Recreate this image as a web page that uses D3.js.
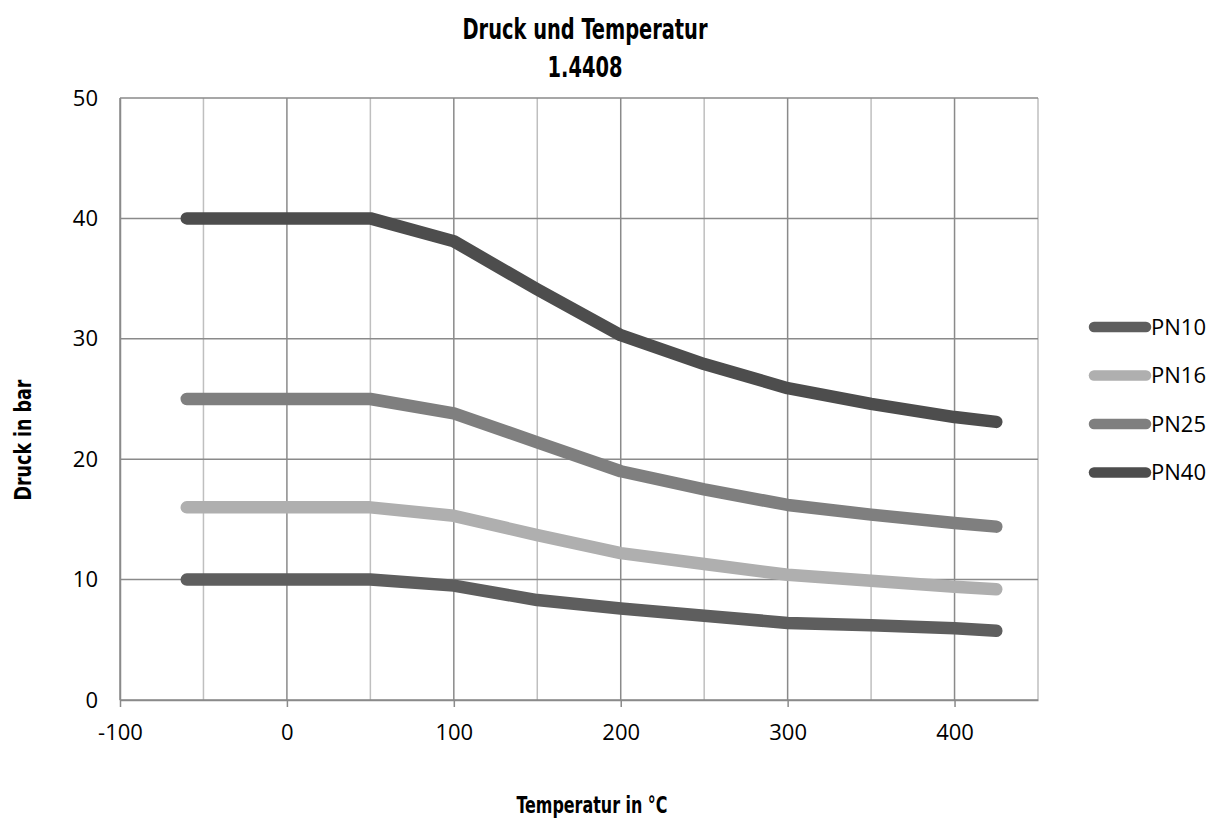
<!DOCTYPE html>
<html>
<head>
<meta charset="utf-8">
<script src="https://cdn.jsdelivr.net/npm/d3@7"></script>
<style>
	body { margin: 0; background: #fff; }
	svg { display: block; }
	.tick-label { font-family: "Open Sans", "Noto Sans", sans-serif; font-size: 22px; fill: #000; }
	.cond { font-family: "DejaVu Sans Condensed", "Liberation Sans Narrow", sans-serif; font-weight: bold; fill: #000; }
</style>
</head>
<body>
<svg id="chart"></svg>
<script>
const temps = [-60, 50, 100, 150, 200, 250, 300, 350, 400, 425];
const seriesNames = ["PN10", "PN16", "PN25", "PN40"];
const pn10 = [10, 10, 9.5, 8.3, 7.6, 7.0, 6.4, 6.2, 5.95, 5.75];
const pn16 = [16, 16, 15.3, 13.7, 12.2, 11.3, 10.4, 9.9, 9.4, 9.2];
const pn25 = [25, 25, 23.8, 21.4, 19.0, 17.5, 16.2, 15.4, 14.7, 14.4];
const pn40 = [40, 40, 38.1, 34.1, 30.3, 27.9, 25.9, 24.6, 23.5, 23.1];
const xTicks = [-100, 0, 100, 200, 300, 400];
const xMinor = [-50, 50, 150, 250, 350, 450];
const yTicks = [0, 10, 20, 30, 40, 50];

const seriesValues = [pn10, pn16, pn25, pn40];
const colors = ["#5e5e5e", "#afafaf", "#7f7f7f", "#4d4d4d"];

const W = 1223, H = 818;
const svg = d3.select("#chart").attr("width", W).attr("height", H);

const x = d3.scaleLinear().domain([-100, 450]).range([120, 1038]);
const y = d3.scaleLinear().domain([0, 50]).range([700, 98]);

// minor vertical grid
svg.append("g")
	.selectAll("line")
	.data(xMinor)
	.enter().append("line")
	.attr("x1", d => x(d)).attr("x2", d => x(d))
	.attr("y1", y(50)).attr("y2", y(0))
	.attr("stroke", "#bfbfbf")
	.attr("stroke-width", 1.5);

// major vertical grid
svg.append("g")
	.selectAll("line")
	.data(xTicks)
	.enter().append("line")
	.attr("x1", d => x(d)).attr("x2", d => x(d))
	.attr("y1", y(50)).attr("y2", y(0))
	.attr("stroke", "#8a8a8a")
	.attr("stroke-width", 1.5);

// horizontal grid
svg.append("g")
	.selectAll("line")
	.data(yTicks)
	.enter().append("line")
	.attr("x1", x(-100)).attr("x2", x(450))
	.attr("y1", d => y(d)).attr("y2", d => y(d))
	.attr("stroke", "#8a8a8a")
	.attr("stroke-width", 1.5);

// x axis
const xAxis = svg.append("g")
	.attr("transform", `translate(0,${y(0)})`)
	.call(d3.axisBottom(x).tickValues(xTicks).tickFormat(d => String(d))
		.tickSize(7).tickSizeOuter(0).tickPadding(17));
xAxis.select(".domain").attr("stroke", "#8a8a8a").attr("stroke-width", 1.5);
xAxis.selectAll(".tick line").attr("stroke", "#8a8a8a").attr("stroke-width", 1.5);
xAxis.selectAll("text").attr("class", "tick-label");

// y axis
const yAxis = svg.append("g")
	.attr("transform", `translate(${x(-100)},0)`)
	.call(d3.axisLeft(y).tickValues(yTicks).tickFormat(d => String(d))
		.tickSize(0).tickSizeOuter(0).tickPadding(22));
yAxis.select(".domain").attr("stroke", "#8a8a8a").attr("stroke-width", 1.5);
yAxis.selectAll("text").attr("class", "tick-label");

// series lines
const line = d3.line()
	.x((d, i) => x(temps[i]))
	.y(d => y(d));

svg.append("g")
	.selectAll("path")
	.data(seriesValues)
	.enter().append("path")
	.attr("d", d => line(d))
	.attr("fill", "none")
	.attr("stroke", (d, i) => colors[i])
	.attr("stroke-width", 12.5)
	.attr("stroke-linecap", "round")
	.attr("stroke-linejoin", "round");

// legend
const legend = svg.append("g")
	.selectAll("g")
	.data(seriesNames)
	.enter().append("g")
	.attr("transform", (d, i) => `translate(0,${327 + i * 48.5})`);

legend.append("line")
	.attr("x1", 1094).attr("x2", 1146)
	.attr("y1", 0).attr("y2", 0)
	.attr("stroke", (d, i) => colors[i])
	.attr("stroke-width", 10.5)
	.attr("stroke-linecap", "round");

legend.append("text")
	.attr("class", "tick-label")
	.attr("x", 1151)
	.attr("y", 0)
	.attr("dy", "0.36em")
	.text(d => d);

// titles
svg.append("text")
	.attr("class", "cond")
	.attr("x", 585).attr("y", 39)
	.attr("text-anchor", "middle")
	.attr("font-size", "28px")
	.attr("textLength", 245)
	.attr("lengthAdjust", "spacingAndGlyphs")
	.text("Druck und Temperatur");

svg.append("text")
	.attr("class", "cond")
	.attr("x", 585).attr("y", 77)
	.attr("text-anchor", "middle")
	.attr("font-size", "28px")
	.attr("textLength", 75)
	.attr("lengthAdjust", "spacingAndGlyphs")
	.text("1.4408");

svg.append("text")
	.attr("class", "cond")
	.attr("x", 592).attr("y", 813)
	.attr("text-anchor", "middle")
	.attr("font-size", "23px")
	.attr("textLength", 151)
	.attr("lengthAdjust", "spacingAndGlyphs")
	.text("Temperatur in °C");

svg.append("text")
	.attr("class", "cond")
	.attr("transform", "translate(31,440) rotate(-90)")
	.attr("text-anchor", "middle")
	.attr("font-size", "23px")
	.attr("textLength", 121)
	.attr("lengthAdjust", "spacingAndGlyphs")
	.text("Druck in bar");
</script>
</body>
</html>
